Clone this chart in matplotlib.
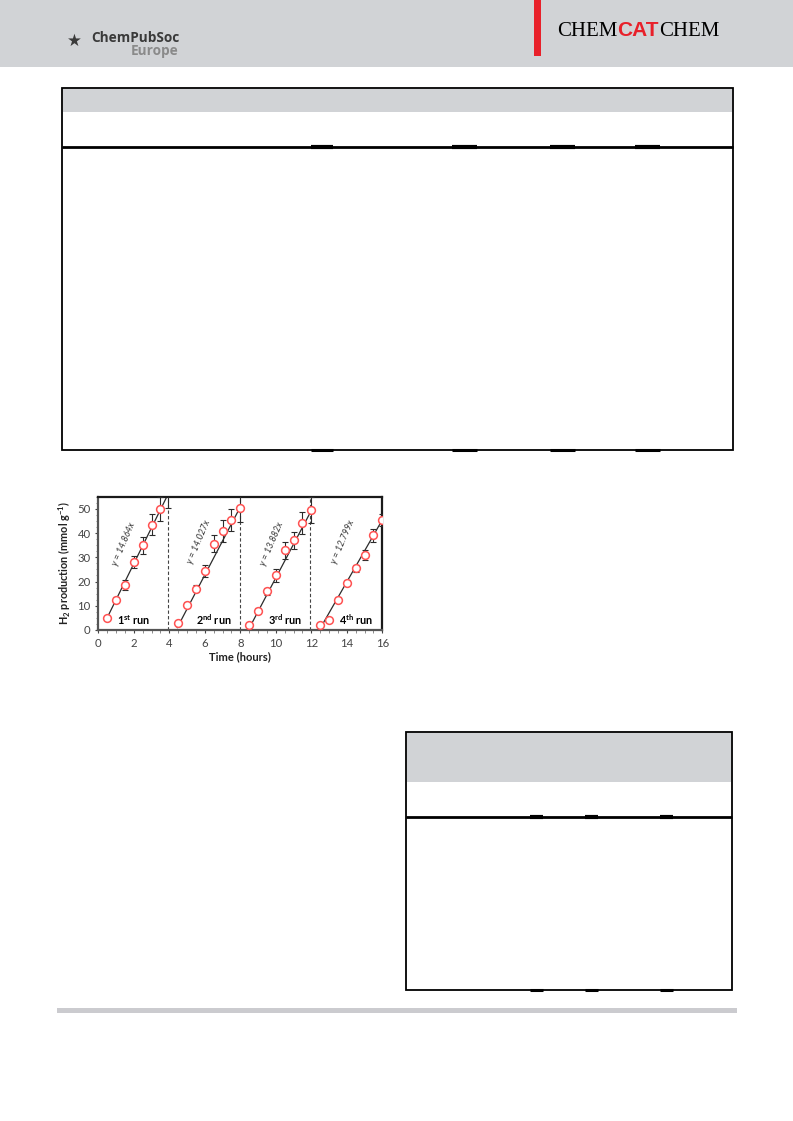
import matplotlib
matplotlib.use("Agg")
import matplotlib.pyplot as plt
from matplotlib.patches import Rectangle
from matplotlib.lines import Line2D
from matplotlib.ticker import MultipleLocator

# ---------------- data ----------------
run1_t = [0.5, 1.0, 1.5, 2.0, 2.5, 3.0, 3.5, 3.95]
run1_h2 = [5.0, 12.5, 18.5, 28.0, 35.0, 43.5, 50.0, 58.0]
run1_err = [0.0, 1.0, 2.0, 2.5, 3.5, 4.5, 5.0, 7.5]

run2_t = [4.5, 5.0, 5.5, 6.0, 6.5, 7.0, 7.5, 8.0]
run2_h2 = [3.0, 10.5, 17.0, 24.5, 35.5, 41.0, 45.5, 50.5]
run2_err = [0.0, 1.0, 1.5, 2.5, 3.5, 4.5, 4.5, 6.0]

run3_t = [8.5, 9.0, 9.5, 10.0, 10.5, 11.0, 11.5, 12.0]
run3_h2 = [2.0, 8.0, 16.0, 22.5, 33.0, 37.0, 44.0, 49.5]
run3_err = [0.5, 1.0, 1.5, 2.5, 3.5, 3.5, 4.5, 5.5]

run4_t = [12.5, 13.0, 13.5, 14.0, 14.5, 15.0, 15.5, 16.0]
run4_h2 = [2.0, 4.0, 12.5, 19.5, 25.5, 31.0, 39.0, 45.5]
run4_err = [0.5, 0.5, 1.0, 1.0, 1.5, 2.0, 2.5, 2.5]

slopes = [14.864, 14.027, 13.882, 12.799]
fit_x0 = [0.16, 4.38, 8.45, 12.45]
fit_start = [0.45, 4.45, 8.5, 12.45]
fit_end = [4.0, 8.0, 12.0, 16.0]
eq_labels = ["y = 14.864x", "y = 14.027x", "y = 13.882x", "y = 12.799x"]
eq_pos = [(1.45, 35.5), (5.65, 36.5), (9.8, 35.5), (13.8, 36.5)]
run_labels = [r"1$^{\mathregular{st}}$ run", r"2$^{\mathregular{nd}}$ run",
              r"3$^{\mathregular{rd}}$ run", r"4$^{\mathregular{th}}$ run"]
run_label_x = [2.0, 6.5, 10.5, 14.5]
separators = [3.95, 8.0, 11.95]
x_ticks = [0, 2, 4, 6, 8, 10, 12, 14, 16]
y_ticks = [0, 10, 20, 30, 40, 50]

W, H = 793, 1121
fig = plt.figure(figsize=(W / 100, H / 100), dpi=100)
fig.patch.set_facecolor("white")

def fx(px):
    return px / W

def fy(py):
    return 1 - py / H

def rect(x0, y0, x1, y1, **kw):
    r = Rectangle((fx(x0), fy(y1)), fx(x1) - fx(x0), fy(y0) - fy(y1),
                  transform=fig.transFigure, **kw)
    fig.add_artist(r)
    return r

def hline(x0, x1, y, lw, color="black"):
    fig.add_artist(Line2D([fx(x0), fx(x1)], [fy(y), fy(y)], lw=lw, color=color,
                          transform=fig.transFigure, solid_capstyle="butt"))

# ---------------- page header ----------------
grey = "#d1d3d6"
rect(0, 0, W, 67, facecolor=grey, edgecolor="none")
rect(534, 0, 541, 56, facecolor="#e8202a", edgecolor="none")
fig.text(fx(91), fy(38), "ChemPubSoc", fontsize=9.8, fontweight="bold",
         color="#3a3a3a", family="Open Sans", va="center", ha="left")
fig.text(fx(179), fy(51), "Europe", fontsize=9.8, fontweight="bold",
         color="#8a8a8a", family="Open Sans", va="center", ha="right")
fig.text(fx(74), fy(41), "\u2605", fontsize=12, color="#3a3a3a",
         va="center", ha="center", family="DejaVu Sans")

# CHEMCATCHEM word mark
fig.canvas.draw()
r = fig.canvas.get_renderer()
xpos = 557
for s, col, fam, wt in [("CHEM", "black", "Liberation Serif", "normal"),
                         ("CAT", "#e8202a", "Liberation Sans", "bold"),
                         ("CHEM", "black", "Liberation Serif", "normal")]:
    t = fig.text(fx(xpos), fy(36), s, fontsize=15, color=col, family=fam,
                 fontweight=wt, va="baseline", ha="left")
    bb = t.get_window_extent(renderer=r)
    xpos += bb.width

# ---------------- table boxes ----------------
rect(62, 88, 733, 450, facecolor="white", edgecolor="black", lw=1.3)
rect(63, 89, 732, 112, facecolor=grey, edgecolor="none")
hline(62, 733, 147, 2.0)
for a, b in [(311, 333), (452, 477), (550, 575), (635, 660)]:
    hline(a, b, 147, 3.0)
    hline(a, b, 450, 2.2)

rect(406, 732, 732, 990, facecolor="white", edgecolor="black", lw=1.3)
rect(407, 733, 731, 782, facecolor=grey, edgecolor="none")
hline(406, 732, 817, 2.0)
for a, b in [(530, 543), (585, 598), (660, 673)]:
    hline(a, b, 817, 3.0)
    hline(a, b, 990, 2.2)

rect(57, 1008, 737, 1013, facecolor="#cbcbcf", edgecolor="none")

# ---------------- chart ----------------
ax_l, ax_r, ax_t, ax_b = 98.3, 382.3, 496.7, 630.0
ax = fig.add_axes([fx(ax_l), fy(ax_b), fx(ax_r) - fx(ax_l), (ax_b - ax_t) / H])
ax.set_xlim(0, 16)
ax.set_ylim(0, 55)

cfont = "Lato"
runs = [(run1_t, run1_h2, run1_err), (run2_t, run2_h2, run2_err),
        (run3_t, run3_h2, run3_err), (run4_t, run4_h2, run4_err)]

for i, (t, h, e) in enumerate(runs):
    xs = [fit_start[i], fit_end[i]]
    ys = [slopes[i] * (x - fit_x0[i]) for x in xs]
    ax.plot(xs, ys, color="#2b2b2b", lw=0.9, zorder=2)
    ax.errorbar(t, h, yerr=e, fmt="none", ecolor="#2b2b2b", elinewidth=0.8,
                capsize=2.5, capthick=0.8, zorder=3)
    ax.plot(t, h, "o", ms=5.6, mfc="white", mec="#ff5252", mew=1.1, zorder=4)
    ax.text(eq_pos[i][0], eq_pos[i][1], eq_labels[i], rotation=67,
            fontsize=6.5, color="#333333", family=cfont, style="italic",
            ha="center", va="center", zorder=5)
    ax.text(run_label_x[i], 4.2, run_labels[i], fontsize=7.8, fontweight="bold",
            family=cfont, ha="center", va="center", zorder=5)

for s in separators:
    ax.axvline(s, color="#444444", lw=0.8, ls=(0, (3, 2)), zorder=1)

ax.set_xticks(x_ticks)
ax.set_yticks(y_ticks)
ax.xaxis.set_minor_locator(MultipleLocator(0.5))
ax.yaxis.set_minor_locator(MultipleLocator(2.5))
ax.tick_params(axis="both", which="major", direction="out", length=2.5,
               width=0.8, labelsize=8.2, colors="#444444", pad=3)
ax.tick_params(axis="both", which="minor", direction="out", length=1.8,
               width=0.6, colors="#777777")
for lab in ax.get_xticklabels() + ax.get_yticklabels():
    lab.set_family(cfont)

for side, sp in ax.spines.items():
    sp.set_linewidth(1.6)
    sp.set_color("#1a1a1a")
ax.spines["bottom"].set_color("#555555")
ax.spines["left"].set_color("#555555")

ax.set_xlabel("Time (hours)", fontsize=8, fontweight="bold", family=cfont,
              labelpad=2, color="#222222")
ax.set_ylabel(r"H$_{\mathregular{2}}$ production (mmol g$^{\mathregular{-1}}$)",
              fontsize=7.8, fontweight="bold", family=cfont, labelpad=3,
              color="#222222")

fig.savefig("out.png", dpi=100, facecolor="white")
